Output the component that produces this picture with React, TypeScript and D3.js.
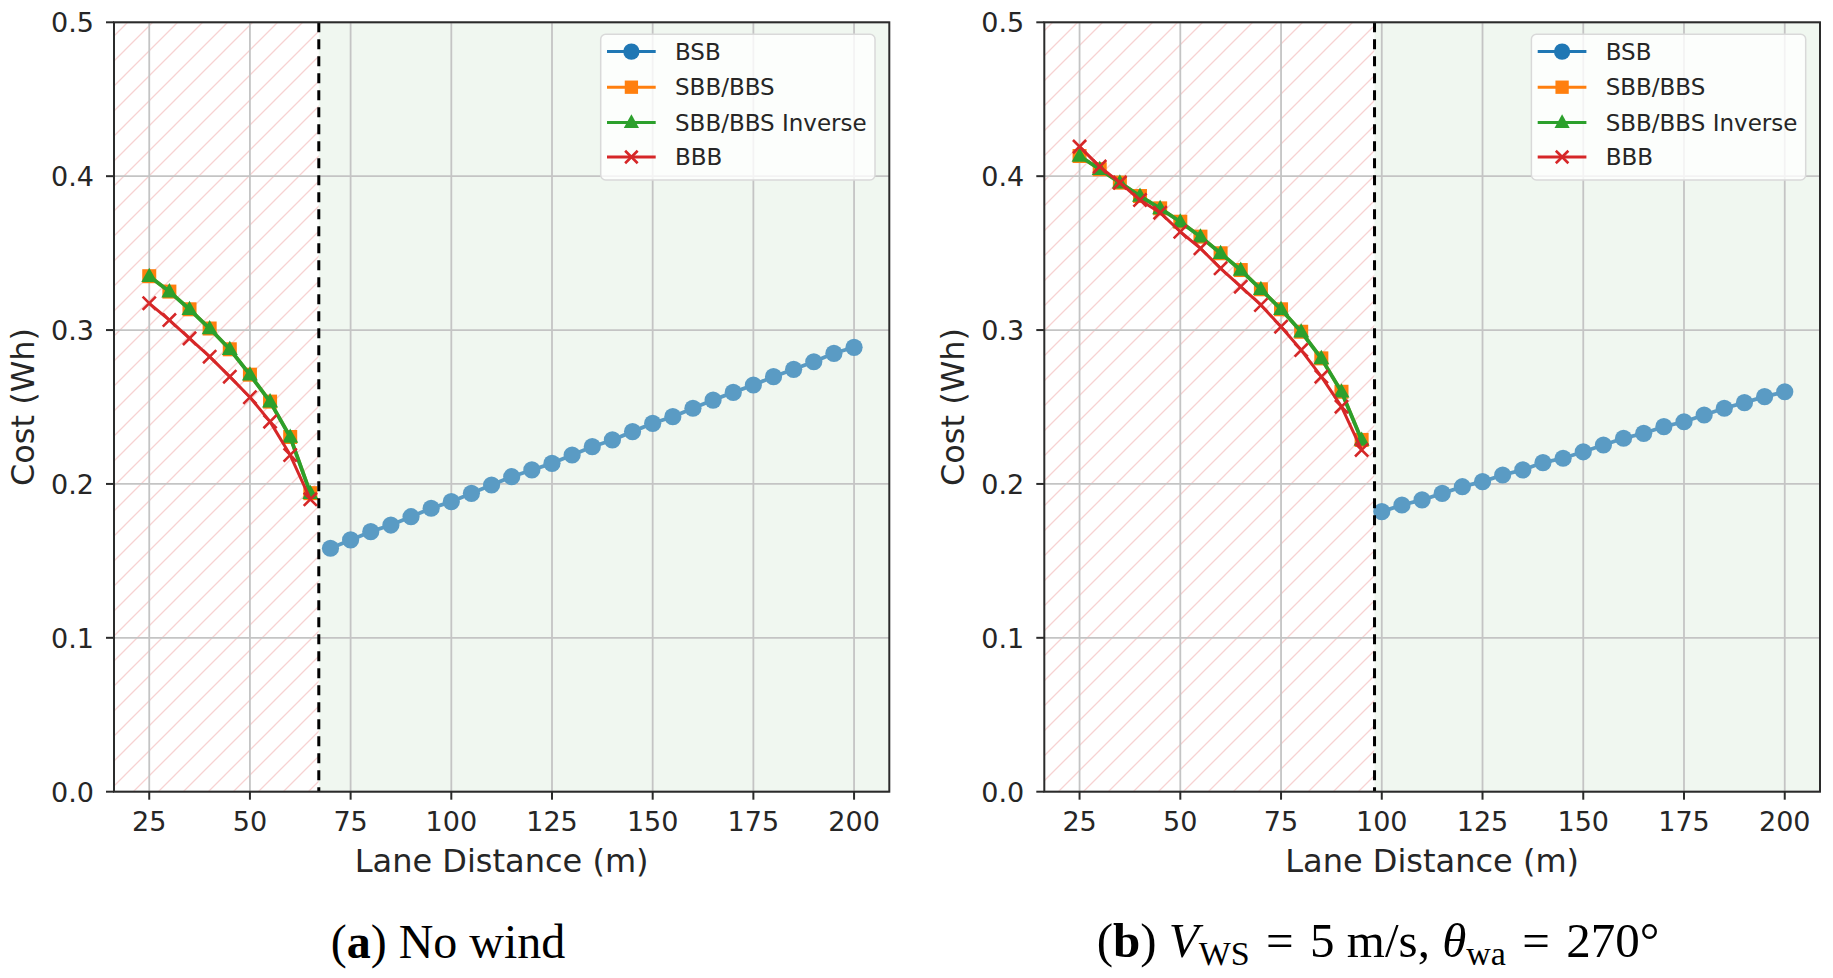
import React from "react";
import * as d3 from "d3";

// ---------- shared ----------
const xTicks = [25, 50, 75, 100, 125, 150, 175, 200];
const yTicks = [0, 0.1, 0.2, 0.3, 0.4, 0.5];
const seriesNames = ["BSB", "SBB/BBS", "SBB/BBS Inverse", "BBB"];
const seriesColors = ["#1f77b4", "#ff7f0e", "#2ca02c", "#d62728"];
const bsbPlotColor = "#5a9bc4";

// ---------- panel (a): no wind ----------
const aShortX = [25, 30, 35, 40, 45, 50, 55, 60, 65];
const aSbb = [0.335, 0.325, 0.3135, 0.301, 0.2875, 0.271, 0.2535, 0.2305, 0.194];
const aInv = [0.335, 0.325, 0.3135, 0.301, 0.2875, 0.271, 0.2535, 0.2305, 0.194];
const aBbb = [0.3174, 0.3065, 0.2946, 0.2827, 0.2697, 0.2563, 0.2405, 0.2188, 0.19];
const aBsbX = [70, 75, 80, 85, 90, 95, 100, 105, 110, 115, 120, 125, 130, 135, 140, 145, 150, 155, 160, 165, 170, 175, 180, 185, 190, 195, 200];
const aBsb = [0.1582, 0.1636, 0.169, 0.1733, 0.1787, 0.1842, 0.1885, 0.1939, 0.1993, 0.2047, 0.2091, 0.2134, 0.2188, 0.2242, 0.2286, 0.234, 0.2394, 0.2437, 0.2492, 0.2545, 0.2595, 0.2643, 0.2697, 0.2745, 0.2794, 0.2849, 0.2888];
const aBoundary = 67.1;

// ---------- panel (b): V_WS = 5 m/s, theta = 270 ----------
const bShortX = [25, 30, 35, 40, 45, 50, 55, 60, 65, 70, 75, 80, 85, 90, 95];
const bSbb = [0.4131, 0.4045, 0.3958, 0.3871, 0.3791, 0.3704, 0.3607, 0.3499, 0.339, 0.3265, 0.3135, 0.2989, 0.2816, 0.2599, 0.2286];
const bInv = [0.4131, 0.4045, 0.3958, 0.3871, 0.3791, 0.3704, 0.3607, 0.3499, 0.339, 0.3265, 0.3135, 0.2989, 0.2816, 0.2599, 0.2286];
const bBbb = [0.4192, 0.4062, 0.3958, 0.3845, 0.3763, 0.3639, 0.3531, 0.3401, 0.3282, 0.3163, 0.3022, 0.287, 0.2697, 0.2502, 0.2221];
const bBsbX = [100, 105, 110, 115, 120, 125, 130, 135, 140, 145, 150, 155, 160, 165, 170, 175, 180, 185, 190, 195, 200];
const bBsb = [0.182, 0.1863, 0.1896, 0.1939, 0.1982, 0.2015, 0.2058, 0.2091, 0.2139, 0.2167, 0.2209, 0.2253, 0.2297, 0.2329, 0.2372, 0.2404, 0.2448, 0.2492, 0.2528, 0.2567, 0.2599];
const bBoundary = 98.2;

const FONT = "DejaVu Sans, sans-serif";
const TOP = 22.3;
const BOTTOM = 791.7;

type PanelProps = {
  id: string;
  left: number;
  right: number;
  shortX: number[];
  sbb: number[];
  inv: number[];
  bbb: number[];
  bsbX: number[];
  bsb: number[];
  boundary: number;
};

function Marker({ kind, color, size = 1 }: { kind: number; color: string; size?: number }) {
  if (kind === 0) return <circle r={8.6 * size} fill={color} />;
  if (kind === 1) {
    const h = 7 * size;
    return <rect x={-h} y={-h} width={2 * h} height={2 * h} fill={color} />;
  }
  if (kind === 2) {
    const s = size;
    return <path d={`M0,${-8.5 * s} L${8 * s},${5.8 * s} L${-8 * s},${5.8 * s} Z`} fill={color} />;
  }
  const h = 6.6 * size;
  return (
    <path d={`M${-h},${-h} L${h},${h} M${-h},${h} L${h},${-h}`} stroke={color} strokeWidth={2.6} fill="none" />
  );
}

function Panel(p: PanelProps) {
  const x = d3.scaleLinear().domain([16.25, 208.75]).range([p.left, p.right]);
  const y = d3.scaleLinear().domain([0, 0.5]).range([BOTTOM, TOP]);
  const line = d3
    .line<[number, number]>()
    .x((d) => x(d[0]))
    .y((d) => y(d[1]));
  const bx = x(p.boundary);
  const fmt = d3.format(".1f");

  const series = [
    { xs: p.bsbX, ys: p.bsb, color: bsbPlotColor, kind: 0, width: 3.8 },
    { xs: p.shortX, ys: p.sbb, color: seriesColors[1], kind: 1, width: 3.4 },
    { xs: p.shortX, ys: p.inv, color: seriesColors[2], kind: 2, width: 3.8 },
    { xs: p.shortX, ys: p.bbb, color: seriesColors[3], kind: 3, width: 3 },
  ];

  const legW = 274.3;
  const legRight = p.right - 14.3;
  const legLeft = legRight - legW;
  const legTop = 34.3;
  const rows = [51.6, 87.2, 122.4, 157];

  return (
    <g>
      <defs>
        <pattern id={`hatch-${p.id}`} patternUnits="userSpaceOnUse" width={25} height={25}>
          <path
            d="M0,25 L25,0 M-6.25,6.25 L6.25,-6.25 M18.75,31.25 L31.25,18.75"
            stroke="#f7d2d2"
            strokeWidth={1.3}
          />
        </pattern>
        <clipPath id={`clip-${p.id}`}>
          <rect x={p.left} y={TOP} width={p.right - p.left} height={BOTTOM - TOP} />
        </clipPath>
      </defs>
      {/* backgrounds */}
      <rect x={p.left} y={TOP} width={bx - p.left} height={BOTTOM - TOP} fill="#ffffff" />
      <rect x={p.left} y={TOP} width={bx - p.left} height={BOTTOM - TOP} fill={`url(#hatch-${p.id})`} />
      <rect x={bx} y={TOP} width={p.right - bx} height={BOTTOM - TOP} fill="#f0f7f0" />
      {/* grid */}
      {xTicks.map((t) => (
        <line key={`gx${t}`} x1={x(t)} x2={x(t)} y1={TOP} y2={BOTTOM} stroke="#c4c4c4" strokeWidth={1.8} />
      ))}
      {yTicks.map((t) => (
        <line key={`gy${t}`} x1={p.left} x2={p.right} y1={y(t)} y2={y(t)} stroke="#c4c4c4" strokeWidth={1.8} />
      ))}
      {/* data */}
      <g clipPath={`url(#clip-${p.id})`}>
        {series.map((s, i) => {
          const pts = s.xs.map((v, j) => [v, s.ys[j]] as [number, number]);
          return (
            <g key={`s${i}`}>
              <path d={line(pts) || ""} fill="none" stroke={s.color} strokeWidth={s.width} strokeLinejoin="round" />
              {pts.map((d, j) => (
                <g key={j} transform={`translate(${x(d[0])},${y(d[1])})`}>
                  <Marker kind={s.kind} color={s.color} />
                </g>
              ))}
            </g>
          );
        })}
      </g>
      {/* boundary */}
      <line x1={bx} x2={bx} y1={TOP} y2={BOTTOM} stroke="#000" strokeWidth={3} strokeDasharray="10,7" />
      {/* spines */}
      <rect x={p.left} y={TOP} width={p.right - p.left} height={BOTTOM - TOP} fill="none" stroke="#2b2b2b" strokeWidth={2} />
      {/* ticks */}
      {xTicks.map((t) => (
        <g key={`tx${t}`}>
          <line x1={x(t)} x2={x(t)} y1={BOTTOM} y2={BOTTOM + 8} stroke="#2b2b2b" strokeWidth={2} />
          <text x={x(t)} y={830.7} textAnchor="middle" fontFamily={FONT} fontSize={27} fill="#262626">
            {t}
          </text>
        </g>
      ))}
      {yTicks.map((t) => (
        <g key={`ty${t}`}>
          <line x1={p.left - 8} x2={p.left} y1={y(t)} y2={y(t)} stroke="#2b2b2b" strokeWidth={2} />
          <text x={p.left - 20} y={y(t) + 9.8} textAnchor="end" fontFamily={FONT} fontSize={27} fill="#262626">
            {fmt(t)}
          </text>
        </g>
      ))}
      {/* axis labels */}
      <text x={(p.left + p.right) / 2} y={871.7} textAnchor="middle" fontFamily={FONT} fontSize={32} fill="#262626">
        Lane Distance (m)
      </text>
      <text
        transform={`translate(${p.left - 80},${(TOP + BOTTOM) / 2}) rotate(-90)`}
        textAnchor="middle"
        fontFamily={FONT}
        fontSize={32}
        fill="#262626"
      >
        Cost (Wh)
      </text>
      {/* legend */}
      <rect
        x={legLeft}
        y={legTop}
        width={legW}
        height={145.7}
        rx={5}
        fill="#ffffff"
        fillOpacity={0.8}
        stroke="#d9d9d9"
        strokeWidth={1.5}
      />
      {seriesNames.map((name, i) => (
        <g key={name}>
          <line
            x1={legLeft + 6.3}
            x2={legLeft + 55}
            y1={rows[i]}
            y2={rows[i]}
            stroke={seriesColors[i]}
            strokeWidth={3}
          />
          <g transform={`translate(${legLeft + 30.7},${rows[i]})`}>
            <Marker kind={i} color={seriesColors[i]} size={0.95} />
          </g>
          <text x={legLeft + 74.3} y={rows[i] + 8.2} fontFamily={FONT} fontSize={23} fill="#262626">
            {name}
          </text>
        </g>
      ))}
    </g>
  );
}

export default function App() {
  const serif = "Liberation Serif, Times New Roman, serif";
  return (
    <svg
      width={1833}
      height={978}
      viewBox="0 0 1833 978"
      style={{ position: "absolute", left: 0, top: 0, display: "block", background: "#fff" }}
    >
      <rect x={0} y={0} width={1833} height={978} fill="#fff" />
      <Panel
        id="a"
        left={114}
        right={889.3}
        shortX={aShortX}
        sbb={aSbb}
        inv={aInv}
        bbb={aBbb}
        bsbX={aBsbX}
        bsb={aBsb}
        boundary={aBoundary}
      />
      <Panel
        id="b"
        left={1044.3}
        right={1820}
        shortX={bShortX}
        sbb={bSbb}
        inv={bInv}
        bbb={bBbb}
        bsbX={bBsbX}
        bsb={bBsb}
        boundary={bBoundary}
      />
      <text x={448} y={958} textAnchor="middle" fontFamily={serif} fontSize={48} fill="#000">
        (<tspan fontWeight="bold">a</tspan>){" No wind"}
      </text>
      <text x={1378} y={957} textAnchor="middle" fontFamily={serif} fontSize={49} fill="#000">
        (<tspan fontWeight="bold">b</tspan>){" "}
        <tspan fontStyle="italic">V</tspan>
        <tspan fontSize={34} dy={8}>WS</tspan>
        <tspan dy={-8}>{"\u2004=\u20045 m/s, "}</tspan>
        <tspan fontStyle="italic">θ</tspan>
        <tspan fontSize={34} dy={8}>wa</tspan>
        <tspan dy={-8}>{"\u2004=\u2004270°"}</tspan>
      </text>
    </svg>
  );
}
